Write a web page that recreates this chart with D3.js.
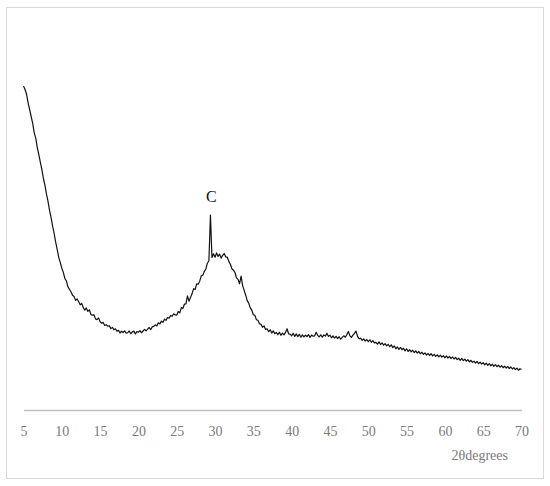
<!DOCTYPE html>
<html>
<head>
<meta charset="utf-8">
<script src="https://cdn.jsdelivr.net/npm/d3@7/dist/d3.min.js"></script>
<style>
  body { margin: 0; background: #fff; }
  .axis text { font-family: "Palatino Linotype", "Book Antiqua", Palatino, "Liberation Serif", serif; }
</style>
</head>
<body>
<svg id="xrd-view" width="550" height="486"></svg>
<script>
// scan: 2theta from 5 to 70 deg, step 0.2
const thetaStart = 5;
const thetaStep = 0.2;
const xTicks = [5, 10, 15, 20, 25, 30, 35, 40, 45, 50, 55, 60, 65, 70];
const xTitle = "2θdegrees";
const peakLabels = [{theta: 29.4, label: "C"}];

// intensity (counts), one row per degree
const counts = [
  3240, 3205, 3158, 3072, 3004,
  2935, 2866, 2772, 2718, 2624,
  2553, 2476, 2404, 2315, 2246,
  2158, 2087, 1996, 1924, 1838,
  1765, 1678, 1604, 1527, 1473,
  1418, 1376, 1315, 1290, 1232,
  1206, 1182, 1147, 1135, 1096,
  1110, 1083, 1052, 1065, 1024,
  998, 1021, 986, 1002, 954,
  948, 952, 911, 904, 921,
  882, 868, 876, 845, 852,
  838, 843, 814, 826, 803,
  812, 789, 796, 770, 788,
  775, 792, 768, 773, 790,
  762, 781, 789, 760, 784,
  778, 794, 772, 790, 806,
  792, 808, 825, 803, 831,
  836, 852, 841, 872, 861,
  889, 876, 908, 896, 925,
  918, 944, 937, 962, 951,
  948, 985, 972, 1024, 1015,
  1058, 1062, 1142, 1088, 1126,
  1162, 1213, 1205, 1262, 1258,
  1288, 1342, 1347, 1384, 1410,
  1468, 1492, 1950, 1524, 1562,
  1528, 1571, 1536, 1558, 1519,
  1547, 1566, 1531, 1528, 1486,
  1457, 1412, 1398, 1375, 1322,
  1306, 1262, 1340, 1244, 1196,
  1148, 1094, 1067, 1021, 998,
  952, 946, 903, 897, 862,
  858, 827, 841, 806, 812,
  784, 802, 769, 791, 763,
  776, 752, 778, 747, 769,
  751, 776, 812, 762, 758,
  742, 768, 736, 761, 733,
  757, 728, 752, 731, 748,
  735, 754, 726, 749, 738,
  742, 778, 746, 731, 752,
  728, 751, 739, 768, 736,
  748, 722, 741, 719, 737,
  714, 733, 708, 726, 742,
  728, 752, 786, 741, 727,
  748, 767, 789, 736, 712,
  718, 696, 712, 689, 705,
  683, 702, 677, 694, 671,
  676, 658, 681, 655, 672,
  648, 664, 641, 657, 633,
  652, 624, 641, 612, 631,
  605, 626, 602, 617, 591,
  612, 585, 603, 581, 598,
  574, 592, 569, 585, 562,
  578, 556, 571, 549, 566,
  545, 563, 541, 557, 536,
  552, 532, 548, 529, 543,
  522, 541, 519, 536, 514,
  531, 510, 526, 504, 518,
  497, 516, 493, 509, 488,
  504, 482, 497, 476, 489,
  468, 486, 463, 479, 458,
  474, 452, 469, 447, 463,
  441, 459, 437, 453, 433,
  448, 428, 444, 423, 438,
  419, 436, 414, 431, 410,
  424, 404, 419, 398, 413,
  405
];

const serif = "'Palatino Linotype', 'Book Antiqua', Palatino, 'Liberation Serif', serif";

class XrdView {
  constructor(id) {
    this.svg = d3.select("#" + id);
    this.width = +this.svg.attr("width");
    this.height = +this.svg.attr("height");
    this.margin = {top: 60, right: 28.5, bottom: 76, left: 23.5};
    this.x = d3.scaleLinear()
      .domain([5, 70])
      .range([this.margin.left, this.width - this.margin.right]);
    this.y = d3.scaleLinear()
      .domain([0, 3500])
      .range([this.height - this.margin.bottom, this.margin.top]);
  }

  bindData(values) {
    this.data = values.map(function(v, i) {
      return {theta: thetaStart + i * thetaStep, value: v};
    });
    this.update();
  }

  renderFrame() {
    this.svg.append("rect")
      .attr("x", 6.5)
      .attr("y", 7.5)
      .attr("width", this.width - 13)
      .attr("height", this.height - 15)
      .attr("fill", "none")
      .attr("stroke", "#d9d9d9");
  }

  renderAxis() {
    const self = this;
    const y0 = self.y(0);
    const axis = self.svg.append("g")
      .attr("class", "axis axis--x")
      .attr("transform", "translate(0," + y0 + ")")
      .call(d3.axisBottom(self.x)
        .tickValues(xTicks)
        .tickSize(0)
        .tickPadding(16)
        .tickFormat(d3.format("d")));
    axis.select(".domain")
      .attr("stroke", "#bfbfbf")
      .attr("stroke-width", 1.3);
    axis.selectAll("text")
      .attr("fill", "#7a7a7a")
      .style("font-size", "14px");

    // axis title sits below the right end of the axis
    self.svg.append("text")
      .attr("class", "axis-title")
      .attr("x", 508)
      .attr("y", y0 + 50)
      .attr("text-anchor", "end")
      .attr("fill", "#7a7a7a")
      .style("font", "14px " + serif)
      .text(xTitle);
  }

  renderLine() {
    const self = this;
    const line = d3.line()
      .x(function(d) { return self.x(d.theta); })
      .y(function(d) { return self.y(d.value); });
    self.svg.append("path")
      .datum(self.data)
      .attr("class", "line")
      .attr("fill", "none")
      .attr("stroke", "#111")
      .attr("stroke-width", 1.2)
      .attr("stroke-linejoin", "round")
      .attr("d", line);
  }

  renderLabels() {
    const self = this;
    self.svg.selectAll("text.peak").data(peakLabels)
      .enter().append("text")
      .attr("class", "peak")
      .attr("x", function(d) { return self.x(d.theta) + 1; })
      .attr("y", function(d) {
        const i = Math.round((d.theta - thetaStart) / thetaStep);
        return self.y(self.data[i].value) - 13;
      })
      .attr("text-anchor", "middle")
      .attr("fill", "#111")
      .style("font", "16px " + serif)
      .text(function(d) { return d.label; });
  }

  update() {
    this.renderFrame();
    this.renderAxis();
    this.renderLine();
    this.renderLabels();
  }
}

const xrdView = new XrdView("xrd-view");
xrdView.bindData(counts);
</script>
</body>
</html>
